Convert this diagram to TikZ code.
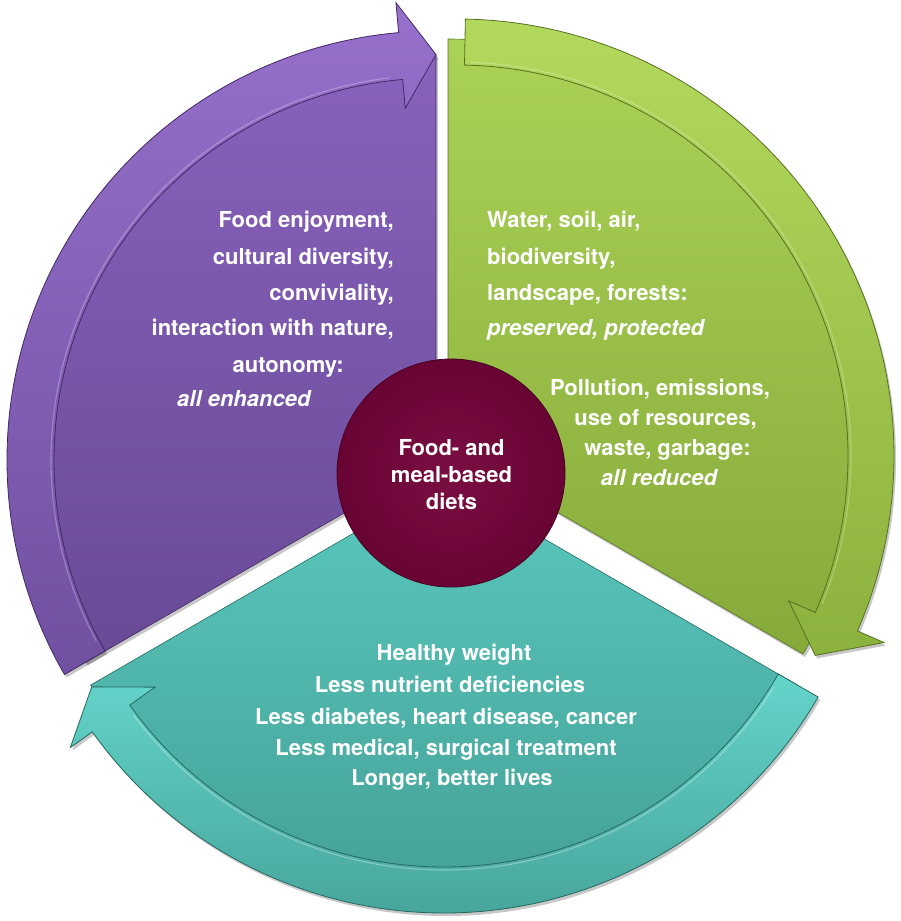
\documentclass[tikz,border=0pt]{standalone}
\usepackage{fontspec}
\setmainfont{TeX Gyre Heros}
\definecolor{purTop}{RGB}{136,98,188}
\definecolor{purBot}{RGB}{104,74,150}
\definecolor{purBandTop}{RGB}{150,112,204}
\definecolor{purBandBot}{RGB}{112,80,160}
\definecolor{purLine}{RGB}{66,40,100}
\definecolor{grnTop}{RGB}{170,210,86}
\definecolor{grnBot}{RGB}{134,170,58}
\definecolor{grnBandTop}{RGB}{178,216,92}
\definecolor{grnBandBot}{RGB}{140,178,62}
\definecolor{grnLine}{RGB}{88,112,34}
\definecolor{tealTop}{RGB}{90,200,190}
\definecolor{tealBot}{RGB}{66,156,146}
\definecolor{tealBandTop}{RGB}{100,212,202}
\definecolor{tealBandBot}{RGB}{72,166,156}
\definecolor{tealLine}{RGB}{36,104,96}
\definecolor{hubIn}{RGB}{122,14,66}
\definecolor{hubOut}{RGB}{104,4,52}
\definecolor{hubLine}{RGB}{72,0,34}
\tikzset{
  lbl/.style={text=white, font=\fontsize{22}{26}\selectfont\bfseries, inner sep=0pt},
  ilbl/.style={text=white, font=\fontsize{22}{26}\selectfont\bfseries\itshape, inner sep=0pt},
  shadowfill/.style={fill=black, opacity=0.22},
  purbody/.style={insert path={(0,0) -- (90:405) arc[start angle=90,end angle=210,radius=405] -- cycle}},
  purband/.style={insert path={(210:429) arc[start angle=210,end angle=95,radius=429] -- (95:459) -- (90:405.5) -- (95:353) -- (95:382) arc[start angle=95,end angle=210,radius=382] -- cycle}},
  grnbody/.style={insert path={(0,0) -- (90:410) arc[start angle=90,end angle=-30,radius=410] -- cycle}},
  grnband/.style={insert path={(88.9:437) arc[start angle=88.9,end angle=-23.6,radius=437] -- (-23.6:466) -- (-29.1:410) -- (-23.6:362) -- (-23.6:391) arc[start angle=-23.6,end angle=88.9,radius=391] -- cycle}},
  tealbody/.style={insert path={(0,0) -- (210:408) arc[start angle=210,end angle=330,radius=408] -- cycle}},
  tealband/.style={insert path={(330:432) arc[start angle=330,end angle=215.5,radius=432] -- (215.5:459) -- (210.3:408) -- (215.5:355) -- (215.5:386) arc[start angle=215.5,end angle=330,radius=386] -- cycle}},
}
\begin{document}
\begin{tikzpicture}[x=1pt,y=1pt]
\useasboundingbox (0,0) rectangle (900,-921);

% ---------- shadows ----------
\begin{scope}[shift={(438,-463)}]
  \fill[shadowfill] [purbody];
  \fill[shadowfill] [purband];
\end{scope}
\begin{scope}[shift={(450,-452)}]
  \fill[shadowfill] [grnbody];
\end{scope}
\begin{scope}[shift={(459,-459)}]
  \fill[shadowfill] [grnband];
\end{scope}
\begin{scope}[shift={(446,-484)}]
  \fill[shadowfill] [tealbody];
  \fill[shadowfill] [tealband];
\end{scope}

% ---------- purple ----------
\begin{scope}[shift={(436,-460)}]
  \path[top color=purTop, bottom color=purBot, draw=purLine, line width=0.6pt] [purbody];
  \path[top color=purBandTop, bottom color=purBandBot, draw=purLine, line width=0.8pt] [purband];
  \draw[white, opacity=0.25, line width=1.2pt] (97:385) arc[start angle=97,end angle=208,radius=385];
\end{scope}

% ---------- green ----------
\begin{scope}[shift={(448,-449)}]
  \path[top color=grnTop, bottom color=grnBot, draw=grnLine, line width=0.6pt] [grnbody];
\end{scope}
\begin{scope}[shift={(457,-456)}]
  \path[top color=grnBandTop, bottom color=grnBandBot, draw=grnLine, line width=0.8pt] [grnband];
  \draw[white, opacity=0.25, line width=1.2pt] (88:394) arc[start angle=88,end angle=-22,radius=394];
\end{scope}

% ---------- teal ----------
\begin{scope}[shift={(444,-481)}]
  \path[top color=tealTop, bottom color=tealBot, draw=tealLine, line width=0.6pt] [tealbody];
  \path[top color=tealBandTop, bottom color=tealBandBot, draw=tealLine, line width=0.8pt] [tealband];
  \draw[white, opacity=0.3, line width=1.2pt] (328:389) arc[start angle=328,end angle=217,radius=389];
\end{scope}

% ---------- hub ----------
\node[circle, minimum size=228pt, inner sep=0pt, draw=hubLine, line width=0.8pt,
      inner color=hubIn, outer color=hubOut] (hub) at (451,-473) {};
\node[lbl, align=center, font=\fontsize{22}{27}\selectfont\bfseries] (hubtext) at (451.5,-475)
  {Food- and\\meal-based\\diets};

% ---------- purple text ----------
\node[lbl, anchor=mid east] (p1) at (394,-225) {Food enjoyment,};
\node[lbl, anchor=mid east] (p2) at (394,-262) {cultural diversity,};
\node[lbl, anchor=mid east] (p3) at (394,-298) {conviviality,};
\node[lbl, anchor=mid east] (p4) at (394,-333) {interaction with nature,};
\node[lbl, anchor=mid east] (p5) at (344,-370) {autonomy:};
\node[ilbl, anchor=mid west] (p6) at (177,-404) {all enhanced};

% ---------- green text ----------
\node[lbl, anchor=mid west] (g1) at (487,-225) {Water, soil, air,};
\node[lbl, anchor=mid west] (g2) at (487,-262) {biodiversity,};
\node[lbl, anchor=mid west] (g3) at (487,-298) {landscape, forests:};
\node[ilbl, anchor=mid west] (g4) at (487,-333) {preserved, protected};
\node[lbl, anchor=mid] (g5) at (660,-393) {Pollution, emissions,};
\node[lbl, anchor=mid] (g6) at (665.5,-423) {use of resources,};
\node[lbl, anchor=mid] (g7) at (667.5,-453) {waste, garbage:};
\node[ilbl, anchor=mid] (g8) at (659,-483) {all reduced};

% ---------- teal text ----------
\node[lbl, anchor=mid] (t1) at (454,-658) {Healthy weight};
\node[lbl, anchor=mid] (t2) at (450,-690) {Less nutrient deficiencies};
\node[lbl, anchor=mid] (t3) at (446,-722) {Less diabetes, heart disease, cancer};
\node[lbl, anchor=mid] (t4) at (446,-753) {Less medical, surgical treatment};
\node[lbl, anchor=mid] (t5) at (452,-783) {Longer, better lives};
\end{tikzpicture}
\end{document}
